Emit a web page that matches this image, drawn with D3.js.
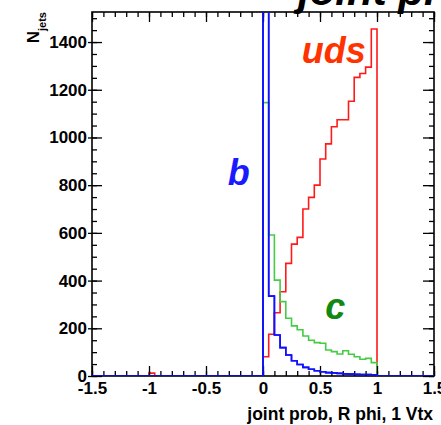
<!DOCTYPE html>
<html>
<head>
<meta charset="utf-8">
<script src="https://cdn.jsdelivr.net/npm/d3@7"></script>
<style>
  html, body { margin: 0; padding: 0; background: #fff; }
  svg { display: block; }
  text { font-family: "Liberation Sans", Arial, Helvetica, sans-serif; font-weight: bold; }
</style>
</head>
<body>
<div id="chart"></div>
<script>
// ---- data ----
const binLow = -1.5;           // histogram range start
const binWidth = 0.05;         // bin width
const nBins = 60;              // -1.5 .. 1.5
// counts for bins in [0,1] (bin index 30..49)
const udsCounts = [81, 175, 265, 353, 472, 553, 581, 700, 749, 800, 910, 973, 1045, 1074, 1074, 1152, 1252, 1268, 1295, 1455];
const cCounts   = [1146, 591, 402, 312, 242, 210, 194, 168, 150, 140, 137, 109, 102, 92, 106, 91, 81, 70, 74, 56];
const bCounts   = [2600, 335, 172, 119, 88, 64, 48, 36, 28, 22, 18, 14, 13, 11, 9, 8, 7, 6, 6, 5];
// the single non-empty bin at -1 (uds)
const udsAtMinusOne = 12;
const xTicks = [-1.5, -1, -0.5, 0, 0.5, 1, 1.5];
const xTickLabels = ["-1.5", "-1", "-0.5", "0", "0.5", "1", "1.5"];
const yTicks = [0, 200, 400, 600, 800, 1000, 1200, 1400];
const yTickLabels = ["0", "200", "400", "600", "800", "1000", "1200", "1400"];
const seriesNames = ["uds", "c", "b"];
const xTitle = "joint prob, R phi, 1 Vtx";
const yTitleMain = "N";
const yTitleSub = "jets";

// ---- layout ----
const W = 441, H = 425;
const L = 92, R = 434, T = 12, B = 376;
const yMax = 1526;

function fullBins(inRange, extra) {
  const arr = new Array(nBins).fill(0);
  inRange.forEach((v, i) => { arr[30 + i] = v; });
  if (extra) arr[10] = extra;
  return arr;
}
const hUds = fullBins(udsCounts, udsAtMinusOne);
const hC = fullBins(cCounts, 0);
const hB = fullBins(bCounts, 0);

const x = d3.scaleLinear().domain([-1.5, 1.5]).range([L, R]);
const y = d3.scaleLinear().domain([0, yMax]).range([B, T]);

const svg = d3.select("#chart").append("svg").attr("width", W).attr("height", H);

svg.append("defs").append("clipPath").attr("id", "frameClip")
  .append("rect").attr("x", L).attr("y", T).attr("width", R - L).attr("height", B - T);

function histPath(h) {
  const p = d3.path();
  p.moveTo(x(binLow), y(0));
  h.forEach((v, i) => {
    const lo = binLow + i * binWidth, hi = lo + binWidth;
    p.lineTo(x(lo), y(v));
    p.lineTo(x(hi), y(v));
  });
  p.lineTo(x(binLow + nBins * binWidth), y(0));
  return p.toString();
}

const g = svg.append("g").attr("clip-path", "url(#frameClip)");
const series = [
  { h: hUds, color: "#ff1a1a" },
  { h: hC, color: "#44cc44" },
  { h: hB, color: "#1010ff" }
];
g.selectAll("path.hist").data(series).enter().append("path")
  .attr("class", "hist")
  .attr("d", d => histPath(d.h))
  .attr("fill", "none")
  .attr("stroke", d => d.color)
  .attr("stroke-width", 1.6)
  .attr("stroke-linejoin", "miter");

// ---- axes ----
const xMinor = d3.range(-15, 16).map(i => i / 10);
const yMinor = d3.range(0, 31).map(i => i * 50).filter(v => v <= yMax);

function styleAxis(sel) {
  sel.select(".domain").remove();
  sel.selectAll("line").attr("stroke", "#000").attr("stroke-width", 1.3);
}

// bottom
svg.append("g").attr("transform", `translate(0,${B})`)
  .call(d3.axisBottom(x).tickValues(xMinor).tickSize(-5).tickFormat(""))
  .call(styleAxis);
const xAx = svg.append("g").attr("transform", `translate(0,${B})`)
  .call(d3.axisBottom(x).tickValues(xTicks).tickSize(-10).tickPadding(6)
    .tickFormat((d, i) => xTickLabels[i]))
  .call(styleAxis);
xAx.selectAll("text").attr("font-size", 17).attr("fill", "#000")
  .attr("font-family", "Liberation Sans, Arial, sans-serif").attr("font-weight", "bold");

// top
svg.append("g").attr("transform", `translate(0,${T})`)
  .call(d3.axisTop(x).tickValues(xMinor).tickSize(-5).tickFormat(""))
  .call(styleAxis);
svg.append("g").attr("transform", `translate(0,${T})`)
  .call(d3.axisTop(x).tickValues(xTicks).tickSize(-10).tickFormat(""))
  .call(styleAxis);

// left
svg.append("g").attr("transform", `translate(${L},0)`)
  .call(d3.axisLeft(y).tickValues(yMinor).tickSize(-5).tickFormat(""))
  .call(styleAxis);
const yAx = svg.append("g").attr("transform", `translate(${L},0)`)
  .call(d3.axisLeft(y).tickValues(yTicks).tickSize(-10).tickPadding(5)
    .tickFormat((d, i) => yTickLabels[i]))
  .call(styleAxis);
yAx.selectAll("line").attr("x1", -4);
yAx.selectAll("text").attr("font-size", 17).attr("fill", "#000")
  .attr("font-family", "Liberation Sans, Arial, sans-serif").attr("font-weight", "bold");

// right
svg.append("g").attr("transform", `translate(${R},0)`)
  .call(d3.axisRight(y).tickValues(yMinor).tickSize(-5).tickFormat(""))
  .call(styleAxis);
svg.append("g").attr("transform", `translate(${R},0)`)
  .call(d3.axisRight(y).tickValues(yTicks).tickSize(-11).tickFormat(""))
  .call(styleAxis);

// frame
svg.append("rect").attr("x", L).attr("y", T).attr("width", R - L).attr("height", B - T)
  .attr("fill", "none").attr("stroke", "#000").attr("stroke-width", 1.6);

// redraw blue baseline over the frame as in the reference
svg.append("path")
  .attr("d", histPath(hB)).attr("clip-path", "url(#frameClip)")
  .attr("fill", "none").attr("stroke", "#1010ff").attr("stroke-width", 1.6);

// ---- titles ----
svg.append("text").attr("x", R - 1).attr("y", 420).attr("text-anchor", "end")
  .attr("font-size", 17.5).attr("fill", "#000").text(xTitle);

const yt = svg.append("text").attr("transform", `translate(38.5,${T}) rotate(-90)`)
  .attr("text-anchor", "end").attr("font-size", 17).attr("fill", "#000");
yt.append("tspan").text(yTitleMain);
yt.append("tspan").attr("dy", 7).attr("font-size", 11).text(yTitleSub);

// top title (cut off at the top edge)
svg.append("text").attr("x", 298).attr("y", 5)
  .attr("font-size", 42).attr("font-style", "italic").attr("fill", "#000")
  .text(xTitle);

// ---- series labels ----
const labelStyle = [
  { name: seriesNames[0], xv: 0.34, yv: 1312, color: "#ff3300" },
  { name: seriesNames[1], xv: 0.545, yv: 240, color: "#118811" },
  { name: seriesNames[2], xv: -0.31, yv: 801, color: "#1a1aff" }
];
svg.selectAll("text.lbl").data(labelStyle).enter().append("text")
  .attr("class", "lbl")
  .attr("x", d => x(d.xv)).attr("y", d => y(d.yv))
  .attr("font-size", 36).attr("font-style", "italic")
  .attr("fill", d => d.color).text(d => d.name);
</script>
</body>
</html>
